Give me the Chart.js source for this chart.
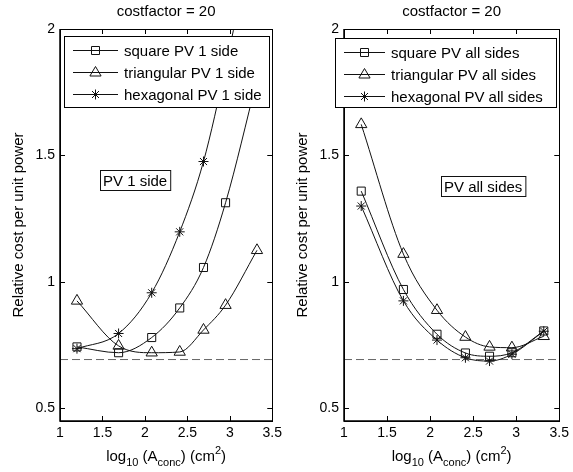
<!DOCTYPE html>
<html>
<head>
<meta charset="utf-8">
<script src="https://cdn.jsdelivr.net/npm/chart.js@4"></script>
<style>
  html, body { margin: 0; padding: 0; background: #fff; }
  #wrap { position: relative; width: 573px; height: 472px; }
  .pane { position: absolute; top: 0; height: 472px; }
</style>
</head>
<body>
<div id="wrap">
  <div class="pane" style="left:0;width:286px"><canvas id="left"></canvas></div>
  <div class="pane" style="left:286px;width:287px"><canvas id="right"></canvas></div>
</div>
<script>
// log10 of concentrator area, shared by all curves
const xLog = [1.2, 1.69, 2.08, 2.41, 2.69, 2.95, 3.32];

// PV on 1 side
const square1 = [0.743, 0.72, 0.78, 0.897, 1.057, 1.313, 1.8];
const triangle1 = [0.925, 0.747, 0.72, 0.723, 0.81, 0.908, 1.125];
const hexagonal1 = [0.736, 0.796, 0.957, 1.198, 1.476, 1.85, 2.45];

// PV on all sides
const squareAll = [1.359, 0.97, 0.793, 0.719, 0.706, 0.72, 0.806];
const triangleAll = [1.623, 1.11, 0.888, 0.782, 0.743, 0.74, 0.785];
const hexagonalAll = [1.30, 0.925, 0.77, 0.70, 0.687, 0.714, 0.805];

const refLevel = 0.693;
const refX = [1, 3.5];
const xTicks = [1, 1.5, 2, 2.5, 3, 3.5];
const yTicks = [0.5, 1, 1.5, 2];
const titleText = 'costfactor = 20';
const yLabel = 'Relative cost per unit power';

const FONT = '"Liberation Sans", Arial, sans-serif';

function pts(ys) {
  return xLog.map((x, i) => ({ x: x, y: ys[i] }));
}

function drawMarker(ctx, style, x, y) {
  ctx.beginPath();
  if (style === 'rect') {
    ctx.rect(x - 4, y - 4, 8, 8);
  } else if (style === 'triangle') {
    ctx.moveTo(x, y - 6);
    ctx.lineTo(x + 5.6, y + 3.5);
    ctx.lineTo(x - 5.6, y + 3.5);
    ctx.closePath();
  } else {
    ctx.moveTo(x - 5, y); ctx.lineTo(x + 5, y);
    ctx.moveTo(x, y - 5); ctx.lineTo(x, y + 5);
    ctx.moveTo(x - 3.5, y - 3.5); ctx.lineTo(x + 3.5, y + 3.5);
    ctx.moveTo(x - 3.5, y + 3.5); ctx.lineTo(x + 3.5, y - 3.5);
  }
  ctx.stroke();
}

function series(label, ys, style) {
  return {
    label: label,
    data: pts(ys),
    borderColor: '#111',
    borderWidth: 1,
    pointStyle: style,
    pointRadius: style === 'rect' ? 5.7 : (style === 'triangle' ? 6.5 : 5),
    pointBorderColor: '#111',
    pointBorderWidth: 1,
    pointBackgroundColor: 'rgba(0,0,0,0)',
    cubicInterpolationMode: 'monotone'
  };
}

function makeChart(id, names, data, legendBox, note, padRight, axisW) {
  const frame = {
    id: 'frame',
    afterDraw(chart) {
      const ctx = chart.ctx;
      const a = chart.chartArea;
      const xs = chart.scales.x, ys = chart.scales.y;
      ctx.save();
      ctx.strokeStyle = '#000';
      ctx.lineWidth = 1;
      // inward ticks
      ctx.beginPath();
      xTicks.forEach(v => {
        const px = Math.round(xs.getPixelForValue(v)) + 0.5;
        ctx.moveTo(px, a.bottom); ctx.lineTo(px, a.bottom - 5);
        ctx.moveTo(px, a.top); ctx.lineTo(px, a.top + 5);
      });
      yTicks.forEach(v => {
        const py = Math.round(ys.getPixelForValue(v)) + 0.5;
        ctx.moveTo(a.left, py); ctx.lineTo(a.left + 5, py);
        ctx.moveTo(a.right, py); ctx.lineTo(a.right - 5, py);
      });
      ctx.stroke();
      // box
      ctx.strokeRect(Math.round(a.left) + 0.5, Math.round(a.top) + 0.5,
        Math.round(a.right - a.left), Math.round(a.bottom - a.top));
      ctx.lineWidth = 1.5;
      ctx.beginPath();
      ctx.moveTo(a.left, a.top); ctx.lineTo(a.left, a.bottom); ctx.lineTo(a.right, a.bottom);
      ctx.stroke();

      ctx.fillStyle = '#000';
      const cx = (a.left + a.right) / 2;
      // title
      ctx.font = '15px ' + FONT;
      ctx.textAlign = 'center';
      ctx.textBaseline = 'alphabetic';
      ctx.fillText(titleText, cx, 16);
      // y label
      ctx.save();
      ctx.translate(a.left - 37, (a.top + a.bottom) / 2);
      ctx.rotate(-Math.PI / 2);
      ctx.fillText(yLabel, 0, 0);
      ctx.restore();
      // x label with sub/superscripts
      const parts = [
        ['log', 15, 0], ['10', 11, 5], [' (A', 15, 0], ['conc', 11, 5],
        [') (cm', 15, 0], ['2', 11, -7], [')', 15, 0]
      ];
      let total = 0;
      parts.forEach(p => { ctx.font = p[1] + 'px ' + FONT; total += ctx.measureText(p[0]).width; });
      let tx = cx - total / 2;
      ctx.textAlign = 'left';
      parts.forEach(p => {
        ctx.font = p[1] + 'px ' + FONT;
        ctx.fillText(p[0], tx, 461 + p[2]);
        tx += ctx.measureText(p[0]).width;
      });

      // legend
      const lb = legendBox;
      ctx.fillStyle = '#fff';
      ctx.fillRect(lb.x, lb.y, lb.w, lb.h);
      ctx.lineWidth = 1;
      ctx.strokeStyle = '#000';
      ctx.strokeRect(lb.x + 0.5, lb.y + 0.5, lb.w, lb.h);
      ctx.font = '15px ' + FONT;
      ['rect', 'triangle', 'star'].forEach((st, i) => {
        const ry = lb.y + 14 + i * 22;
        ctx.strokeStyle = '#111';
        ctx.beginPath();
        ctx.moveTo(lb.x + 9, ry + 0.5); ctx.lineTo(lb.x + lb.line, ry + 0.5);
        ctx.stroke();
        drawMarker(ctx, st, lb.x + (9 + lb.line) / 2, ry + 0.5);
        ctx.fillStyle = '#000';
        ctx.fillText(names[i], lb.x + lb.line + 6, ry + 5.5);
      });

      // annotation
      ctx.font = '15px ' + FONT;
      const nw = ctx.measureText(note.text).width + 6;
      ctx.fillStyle = '#fff';
      ctx.fillRect(note.x, note.y, nw, 20);
      ctx.strokeRect(note.x + 0.5, note.y + 0.5, nw, 20);
      ctx.fillStyle = '#000';
      ctx.fillText(note.text, note.x + 3, note.y + 16);
      ctx.restore();
    }
  };

  return new Chart(document.getElementById(id), {
    type: 'line',
    data: {
      datasets: [
        series(names[0], data[0], 'rect'),
        series(names[1], data[1], 'triangle'),
        series(names[2], data[2], 'star'),
        {
          label: 'reference',
          data: refX.map(x => ({ x: x, y: refLevel })),
          borderColor: '#666',
          borderWidth: 1,
          borderDash: [8, 4],
          pointRadius: 0
        }
      ]
    },
    options: {
      responsive: true,
      maintainAspectRatio: false,
      animation: false,
      events: [],
      layout: { padding: { left: 0, right: padRight, top: 29, bottom: 0 } },
      plugins: { legend: { display: false }, tooltip: { enabled: false } },
      scales: {
        x: {
          type: 'linear',
          min: 1,
          max: 3.5,
          afterBuildTicks: s => { s.ticks = xTicks.map(v => ({ value: v })); },
          afterFit: s => { s.height = 51; },
          grid: { display: false, drawTicks: false },
          border: { display: false },
          ticks: {
            color: '#000', padding: 4, maxRotation: 0,
            font: { family: FONT, size: 14 },
            callback: v => String(v)
          }
        },
        y: {
          min: 0.45,
          max: 2,
          afterBuildTicks: s => { s.ticks = yTicks.map(v => ({ value: v })); },
          afterFit: s => { s.width = axisW; },
          grid: { display: false, drawTicks: false },
          border: { display: false },
          ticks: {
            color: '#000', padding: 5,
            font: { family: FONT, size: 14 },
            callback: v => String(v)
          }
        }
      }
    },
    plugins: [frame]
  });
}

makeChart('left',
  ['square PV 1 side', 'triangular PV 1 side', 'hexagonal PV 1 side'],
  [square1, triangle1, hexagonal1],
  { x: 64, y: 36, w: 205, h: 71, line: 54 },
  { text: 'PV 1 side', x: 100, y: 170 },
  10, 60);

makeChart('right',
  ['square PV all sides', 'triangular PV all sides', 'hexagonal PV all sides'],
  [squareAll, triangleAll, hexagonalAll],
  { x: 49, y: 38, w: 221, h: 69, line: 50 },
  { text: 'PV all sides', x: 155, y: 176 },
  11, 58);
</script>
</body>
</html>
